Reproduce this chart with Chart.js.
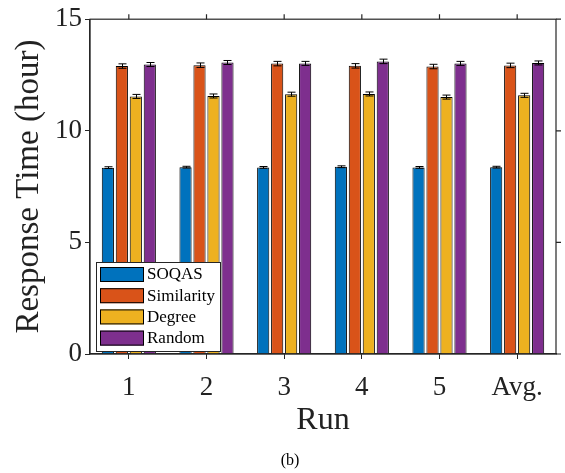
<!DOCTYPE html>
<html>
<head>
<meta charset="utf-8">
<script src="https://cdn.jsdelivr.net/npm/chart.js@4.4.1/dist/chart.umd.min.js"></script>
<style>
  html, body { margin: 0; padding: 0; background: #fff; }
</style>
</head>
<body>
<canvas id="myChart" width="565" height="473"></canvas>
<script>
// data
const runs = ['1', '2', '3', '4', '5', 'Avg.'];
const soqas      = [8.35, 8.37, 8.36, 8.39, 8.36, 8.37];
const similarity = [12.90, 12.94, 13.01, 12.91, 12.88, 12.93];
const degree     = [11.54, 11.56, 11.64, 11.65, 11.51, 11.59];
const random     = [12.97, 13.06, 13.02, 13.11, 13.02, 13.04];
const soqasErr      = [0.04, 0.04, 0.04, 0.04, 0.04, 0.04];
const similarityErr = [0.10, 0.10, 0.10, 0.10, 0.10, 0.10];
const degreeErr     = [0.09, 0.09, 0.09, 0.09, 0.09, 0.09];
const randomErr     = [0.09, 0.09, 0.09, 0.10, 0.09, 0.09];
const yTicks = [0, 5, 10, 15];

const FONT = 'Liberation Serif';
const AXIS = '#262626';

// error bars, box around the axes, mirrored ticks, legend and caption
const extras = {
  id: 'extras',
  afterDatasetsDraw(chart) {
    const ctx = chart.ctx;
    const y = chart.scales.y;
    ctx.save();
    ctx.strokeStyle = '#000';
    ctx.lineWidth = 1;
    chart.data.datasets.forEach((ds, i) => {
      const meta = chart.getDatasetMeta(i);
      meta.data.forEach((bar, j) => {
        const hi = y.getPixelForValue(ds.data[j] + ds.errors[j]);
        const lo = y.getPixelForValue(ds.data[j] - ds.errors[j]);
        const x = Math.round(bar.x) + 0.5;
        ctx.beginPath();
        ctx.moveTo(x, hi); ctx.lineTo(x, lo);
        ctx.moveTo(x - 4, hi); ctx.lineTo(x + 4, hi);
        ctx.moveTo(x - 4, lo); ctx.lineTo(x + 4, lo);
        ctx.stroke();
      });
    });
    ctx.restore();
  },
  afterDraw(chart) {
    const ctx = chart.ctx;
    const a = chart.chartArea;
    const x = chart.scales.x;
    const y = chart.scales.y;
    ctx.save();
    ctx.strokeStyle = AXIS;
    ctx.lineWidth = 1.2;
    ctx.strokeRect(a.left, a.top, a.right - a.left, a.bottom - a.top);
    ctx.beginPath();
    runs.forEach((r, i) => {
      const px = x.getPixelForValue(i);
      ctx.moveTo(px, a.top); ctx.lineTo(px, a.top - 5);
    });
    yTicks.forEach(v => {
      const py = y.getPixelForValue(v);
      ctx.moveTo(a.right, py); ctx.lineTo(a.right + 5, py);
    });
    ctx.stroke();

    // legend box inside the axes
    const lx = 96, ly = 262, lw = 124, lh = 89;
    ctx.fillStyle = '#fff';
    ctx.fillRect(lx, ly, lw, lh);
    ctx.lineWidth = 1;
    ctx.strokeStyle = AXIS;
    ctx.strokeRect(lx + 0.5, ly + 0.5, lw, lh);
    ctx.font = '17px "' + FONT + '"';
    ctx.textBaseline = 'middle';
    ctx.textAlign = 'left';
    chart.data.datasets.forEach((ds, i) => {
      const ry = ly + 5 + i * 21.2;
      ctx.fillStyle = ds.backgroundColor;
      ctx.fillRect(lx + 4, ry, 44, 15);
      ctx.strokeStyle = '#000';
      ctx.strokeRect(lx + 4.5, ry + 0.5, 43, 14);
      ctx.fillStyle = '#000';
      ctx.fillText(ds.label, lx + 51, ry + 8);
    });

    ctx.font = '16px "' + FONT + '"';
    ctx.textAlign = 'center';
    ctx.fillStyle = '#000';
    ctx.fillText('(b)', 290, 461);
    ctx.restore();
  }
};

const ctx = document.getElementById('myChart').getContext('2d');
new Chart(ctx, {
  type: 'bar',
  data: {
    labels: runs,
    datasets: [
      { label: 'SOQAS', data: soqas, errors: soqasErr, backgroundColor: '#0072BD' },
      { label: 'Similarity', data: similarity, errors: similarityErr, backgroundColor: '#D95319' },
      { label: 'Degree', data: degree, errors: degreeErr, backgroundColor: '#EDB120' },
      { label: 'Random', data: random, errors: randomErr, backgroundColor: '#7E2F8E' }
    ]
  },
  options: {
    responsive: false,
    animation: false,
    layout: { padding: { left: 0, right: 9, top: 19, bottom: 33 } },
    datasets: {
      bar: {
        borderColor: '#000',
        borderWidth: 1,
        categoryPercentage: 0.72,
        barPercentage: 0.87
      }
    },
    scales: {
      x: {
        grid: { drawOnChartArea: false, offset: false, tickLength: 5, color: AXIS },
        border: { color: AXIS, width: 1.2 },
        ticks: { font: { family: FONT, size: 27 }, color: '#222', padding: 13, maxRotation: 0 },
        title: { display: true, text: 'Run', font: { family: FONT, size: 32 }, color: '#222', padding: 0 },
        afterFit(scale) { scale.height = 86; }
      },
      y: {
        min: 0,
        max: 15,
        ticks: { stepSize: 5, font: { family: FONT, size: 27 }, color: '#222', padding: 3 },
        grid: { drawOnChartArea: false, tickLength: 5, color: AXIS },
        border: { color: AXIS, width: 1.2 },
        title: { display: true, text: 'Response Time (hour)', font: { family: FONT, size: 33 }, color: '#222', padding: { top: 10, bottom: 0 } },
        afterFit(scale) { scale.width = 90; }
      }
    },
    plugins: {
      legend: { display: false },
      tooltip: { enabled: false }
    }
  },
  plugins: [extras]
});
</script>
</body>
</html>
